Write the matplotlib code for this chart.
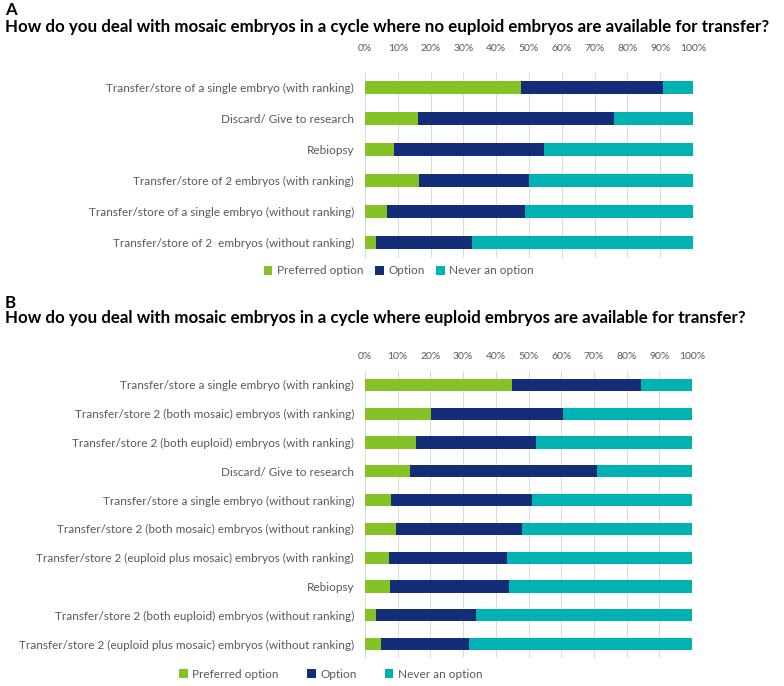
import matplotlib.pyplot as plt
import numpy as np

plt.rcParams['font.family'] = ['Lato', 'DejaVu Sans']

# panel A: no euploid embryos available
labels_a = ["Transfer/store of a single embryo (with ranking)",
            "Discard/ Give to research",
            "Rebiopsy",
            "Transfer/store of 2 embryos (with ranking)",
            "Transfer/store of a single embryo (without ranking)",
            "Transfer/store of 2  embryos (without ranking)"]
preferred_a = [47.5, 16.2, 8.8, 16.6, 6.6, 3.2]
option_a = [43.2, 59.7, 45.9, 33.5, 42.1, 29.4]
never_a = [9.3, 24.1, 45.3, 49.9, 51.3, 67.4]

# panel B: euploid embryos available
labels_b = ["Transfer/store a single embryo (with ranking)",
            "Transfer/store 2 (both mosaic) embryos (with ranking)",
            "Transfer/store 2 (both euploid) embryos (with ranking)",
            "Discard/ Give to research",
            "Transfer/store a single embryo (without ranking)",
            "Transfer/store 2 (both mosaic) embryos (without ranking)",
            "Transfer/store 2 (euploid plus mosaic) embryos (with ranking)",
            "Rebiopsy",
            "Transfer/store 2 (both euploid) embryos (without ranking)",
            "Transfer/store 2 (euploid plus mosaic) embryos (without ranking)"]
preferred_b = [45.0, 20.2, 15.6, 13.6, 7.9, 9.5, 7.2, 7.7, 3.3, 4.8]
option_b = [39.5, 40.2, 36.6, 57.4, 43.3, 38.5, 36.3, 36.3, 30.6, 26.9]
never_b = [15.5, 39.6, 47.8, 29.0, 48.8, 52.0, 56.5, 56.0, 66.1, 68.3]

series_names = ["Preferred option", "Option", "Never an option"]
colors = ["#84C225", "#132D78", "#00B2B2"]
ticks = np.arange(0, 101, 10)
tick_labels = ["{}%".format(t) for t in ticks]

grey = "#595959"

fig = plt.figure(figsize=(7.84, 6.86), dpi=100)


def draw_panel(ax, labels, series, bar_h, pad):
    y = np.arange(len(labels))
    left = np.zeros(len(labels))
    for vals, name, c in zip(series, series_names, colors):
        ax.barh(y, vals, left=left, height=bar_h, color=c, label=name, zorder=3)
        left = left + np.array(vals)
    ax.set_xlim(0, 100)
    ax.set_ylim(len(labels) - 0.5, -0.5)
    ax.set_yticks(y)
    ax.set_yticklabels(labels, fontsize=8.5, color=grey)
    ax.xaxis.tick_top()
    ax.set_xticks(ticks)
    ax.set_xticklabels(tick_labels, fontsize=7.5, color=grey)
    ax.tick_params(axis='both', length=0)
    ax.tick_params(axis='x', pad=pad)
    ax.tick_params(axis='y', pad=8)
    ax.grid(axis='x', color="#D9D9D9", linewidth=0.7, zorder=0)
    for s in ax.spines.values():
        s.set_visible(False)


ax_a = fig.add_axes([0.4656, 0.6246, 0.4184, 0.2697])
draw_panel(ax_a, labels_a, [preferred_a, option_a, never_a], 0.42, 14)

ax_b = fig.add_axes([0.4656, 0.0402, 0.4171, 0.4196])
draw_panel(ax_b, labels_b, [preferred_b, option_b, never_b], 0.42, 7)

fig.text(0.006, 0.985, "A", fontsize=12.2, fontweight='bold', va='center')
fig.text(0.006, 0.960, "How do you deal with mosaic embryos in a cycle where no euploid embryos are available for transfer?",
         fontsize=12.2, fontweight='bold', va='center')
fig.text(0.006, 0.559, "B", fontsize=12.2, fontweight='bold', va='center')
fig.text(0.006, 0.537, "How do you deal with mosaic embryos in a cycle where euploid embryos are available for transfer?",
         fontsize=12.2, fontweight='bold', va='center')

h, l = ax_a.get_legend_handles_labels()
leg_a = fig.legend(h, l, loc='center', bbox_to_anchor=(399 / 784, 1 - 271 / 686), ncol=3, frameon=False,
                   fontsize=8.5, handlelength=0.7, handleheight=0.7, handletextpad=0.4, columnspacing=1.0)
leg_b = fig.legend(h, l, loc='center', bbox_to_anchor=(331 / 784, 1 - 674 / 686), ncol=3, frameon=False,
                   fontsize=8.5, handlelength=0.7, handleheight=0.7, handletextpad=0.4, columnspacing=2.4)
for leg in (leg_a, leg_b):
    for t in leg.get_texts():
        t.set_color(grey)

fig.savefig("out.png", dpi=100)
